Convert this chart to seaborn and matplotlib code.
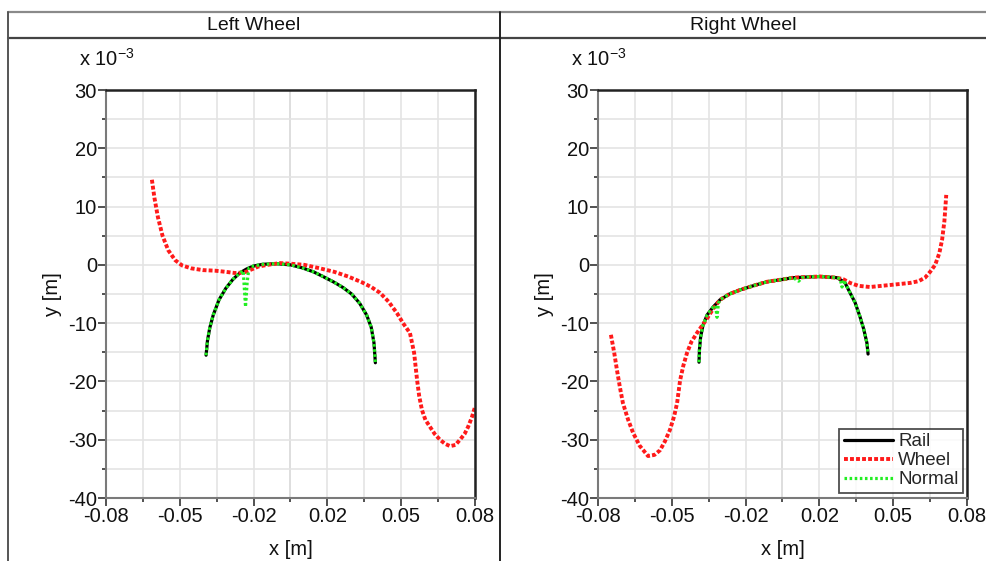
import numpy as np
import pandas as pd
import matplotlib
matplotlib.use("Agg")
import matplotlib.pyplot as plt
from matplotlib.lines import Line2D
from matplotlib.ticker import FixedLocator, FuncFormatter
import seaborn as sns

# ---- profile data (x in m, y in units of 1e-3 m) ----
left_wheel_x = [-0.0601, -0.0590, -0.0575, -0.0555, -0.0530, -0.0500, -0.0470, -0.0430, -0.0380,
                -0.0327, -0.0280, -0.0241, -0.0200, -0.0170, -0.0140, -0.0100, -0.0045, 0.0000,
                0.0060, 0.0128, 0.0190, 0.0250, 0.0310, 0.0350, 0.0388, 0.0425, 0.0462, 0.0488,
                0.0518, 0.0536, 0.0549, 0.0558, 0.0570, 0.0585, 0.0605, 0.0625, 0.0648, 0.0670,
                0.0692, 0.0715, 0.0735, 0.0755, 0.0770, 0.0786, 0.0800]
left_wheel_y = [14.6, 11.5, 8.2, 5.0, 2.5, 0.8, -0.1, -0.6, -0.9,
                -1.0, -1.2, -1.4, -1.3, -0.8, -0.3, 0.0, 0.3, 0.2,
                0.0, -0.6, -1.2, -2.0, -3.0, -3.8, -4.8, -6.3, -8.3, -10.0,
                -11.7, -15.1, -19.8, -22.5, -24.9, -26.6, -27.8, -29.0, -30.0, -30.7,
                -31.1, -30.9, -30.0, -29.0, -27.8, -26.2, -24.4]

left_rail_x = [-0.0366, -0.0360, -0.0350, -0.0335, -0.0310, -0.0280, -0.0250, -0.0220, -0.0190,
               -0.0160, -0.0120, -0.0060, 0.0000, 0.0050, 0.0100, 0.0141, 0.0190, 0.0228,
               0.0265, 0.0300, 0.0330, 0.0350, 0.0362, 0.0368]
left_rail_y = [-15.5, -13.0, -10.8, -8.6, -6.0, -4.0, -2.5, -1.4, -0.7,
               -0.2, 0.1, 0.2, 0.0, -0.5, -1.2, -2.0, -3.0, -3.9,
               -5.0, -6.6, -8.6, -10.7, -13.4, -16.8]

left_normal_x = [-0.0366, -0.0360, -0.0350, -0.0335, -0.0310, -0.0280, -0.0250, -0.0220, -0.0205,
                 -0.0195, -0.0188, -0.0180, -0.0160, -0.0120, -0.0060, 0.0000, 0.0050, 0.0100,
                 0.0141, 0.0190, 0.0228, 0.0265, 0.0300, 0.0330, 0.0350, 0.0362, 0.0368]
left_normal_y = [-15.5, -13.0, -10.8, -8.6, -6.0, -4.0, -2.5, -1.4, -1.0,
                 -7.2, -3.0, -0.5, -0.2, 0.1, 0.2, 0.0, -0.5, -1.2,
                 -2.0, -3.0, -3.9, -5.0, -6.6, -8.6, -10.7, -13.4, -16.8]

right_wheel_x = [-0.0744, -0.0730, -0.0718, -0.0705, -0.0692, -0.0670, -0.0648, -0.0620, -0.0583,
                 -0.0555, -0.0531, -0.0510, -0.0488, -0.0470, -0.0457, -0.0444, -0.0430, -0.0414,
                 -0.0395, -0.0371, -0.0350, -0.0327, -0.0300, -0.0271, -0.0230, -0.0184, -0.0120,
                 -0.0067, 0.0000, 0.0046, 0.0100, 0.0163, 0.0236, 0.0265, 0.0293, 0.0330,
                 0.0379, 0.0430, 0.0480, 0.0553, 0.0590, 0.0618, 0.0640, 0.0662, 0.0680,
                 0.0692, 0.0702, 0.0710]
right_wheel_y = [-12.0, -15.0, -18.0, -21.0, -23.7, -26.5, -28.8, -31.0, -32.8,
                 -32.6, -31.8, -30.3, -28.3, -26.0, -23.7, -19.8, -17.3, -15.1,
                 -13.2, -11.7, -10.5, -9.2, -7.5, -6.0, -5.0, -4.3, -3.5,
                 -2.9, -2.5, -2.2, -2.1, -2.0, -2.2, -2.5, -3.1, -3.6,
                 -3.8, -3.6, -3.4, -3.1, -2.8, -2.2, -1.2, 0.0, 2.0,
                 4.3, 7.5, 12.0]

right_rail_x = [-0.0362, -0.0360, -0.0355, -0.0345, -0.0327, -0.0300, -0.0271, -0.0230, -0.0184,
                -0.0120, -0.0067, 0.0000, 0.0046, 0.0100, 0.0163, 0.0236, 0.0270, 0.0293,
                0.0315, 0.0336, 0.0352, 0.0366, 0.0371]
right_rail_y = [-16.7, -14.5, -12.4, -10.4, -8.6, -7.2, -6.0, -5.0, -4.3,
                -3.5, -2.9, -2.5, -2.2, -2.1, -2.0, -2.2, -3.0, -4.8,
                -6.5, -8.9, -11.0, -13.4, -15.3]

right_normal_x = [-0.0362, -0.0360, -0.0355, -0.0345, -0.0327, -0.0300, -0.0290, -0.0284, -0.0278,
                  -0.0271, -0.0230, -0.0184, -0.0120, -0.0067, 0.0000, 0.0046, 0.0070, 0.0085,
                  0.0100, 0.0163, 0.0236, 0.0250, 0.0258, 0.0266, 0.0270, 0.0293, 0.0315,
                  0.0336, 0.0352, 0.0366, 0.0371]
right_normal_y = [-16.7, -14.5, -12.4, -10.4, -8.6, -7.2, -7.0, -9.0, -6.6,
                  -6.0, -5.0, -4.3, -3.5, -2.9, -2.5, -2.2, -2.8, -2.2,
                  -2.1, -2.0, -2.2, -2.4, -3.8, -2.6, -3.0, -4.8, -6.5,
                  -8.9, -11.0, -13.4, -15.3]

panel_titles = ["Left Wheel", "Right Wheel"]
series_names = ["Rail", "Wheel", "Normal"]
x_tick_positions = [-0.08, -0.048, -0.016, 0.016, 0.048, 0.08]
x_tick_labels = ["-0.08", "-0.05", "-0.02", "0.02", "0.05", "0.08"]
x_minor_positions = [-0.064, -0.032, 0.0, 0.032, 0.064]
y_tick_values = [30, 20, 10, 0, -10, -20, -30, -40]   # in 1e-3 m


def frame(xs, ys, name):
    return pd.DataFrame({"x": xs, "y": np.asarray(ys) * 1e-3, "series": name})


panels = [
    {"Rail": frame(left_rail_x, left_rail_y, "Rail"),
     "Wheel": frame(left_wheel_x, left_wheel_y, "Wheel"),
     "Normal": frame(left_normal_x, left_normal_y, "Normal")},
    {"Rail": frame(right_rail_x, right_rail_y, "Rail"),
     "Wheel": frame(right_wheel_x, right_wheel_y, "Wheel"),
     "Normal": frame(right_normal_x, right_normal_y, "Normal")},
]

styles = {
    "Rail": dict(color="black", linewidth=2.3, linestyle="-"),
    "Wheel": dict(color="#ff1a1a", linewidth=2.8, linestyle=(0, (1.0, 0.55))),
    "Normal": dict(color="#22ee22", linewidth=2.3, linestyle=(0, (0.8, 0.8))),
}

sns.set_theme(style="white")
plt.rcParams["font.family"] = ["Liberation Sans", "DejaVu Sans"]
plt.rcParams["mathtext.fontset"] = "custom"
plt.rcParams["mathtext.rm"] = "Liberation Sans"

W, H = 987, 561
FS = 14.5
fig = plt.figure(figsize=(W / 100, H / 100), dpi=100)

ax_left_px = [106, 598]
ax_w_px = 369
ax_top_px, ax_bot_px = 90, 498

# panel frame lines and title strips
edge_l, divider, top_y, strip_y = 8 / W, 500 / W, 1 - 12 / H, 1 - 38 / H
fig.add_artist(Line2D([edge_l, 1.0], [top_y, top_y], color="#8a8a8a", lw=1.6, transform=fig.transFigure))
fig.add_artist(Line2D([edge_l, 1.0], [strip_y, strip_y], color="#444444", lw=1.6, transform=fig.transFigure))
fig.add_artist(Line2D([edge_l, edge_l], [0, top_y], color="#555555", lw=1.4, transform=fig.transFigure))
fig.add_artist(Line2D([divider, divider], [0, top_y], color="#222222", lw=1.4, transform=fig.transFigure))

title_centers = [(8 + 500) / 2 / W, (500 + 987) / 2 / W]

for i, (lp, data) in enumerate(zip(ax_left_px, panels)):
    ax = fig.add_axes([lp / W, 1 - ax_bot_px / H, ax_w_px / W, (ax_bot_px - ax_top_px) / H])

    for name in series_names:
        sns.lineplot(data=data[name], x="x", y="y", sort=False, estimator=None,
                     ax=ax, label=name, **styles[name])

    ax.set_xlim(-0.08, 0.08)
    ax.set_ylim(-0.040, 0.030)

    ax.xaxis.set_major_locator(FixedLocator(x_tick_positions))
    ax.xaxis.set_minor_locator(FixedLocator(x_minor_positions))
    ax.set_xticklabels(x_tick_labels)
    ax.yaxis.set_major_locator(FixedLocator([v * 1e-3 for v in y_tick_values]))
    ax.yaxis.set_minor_locator(FixedLocator([(v + 5) * 1e-3 for v in y_tick_values[1:]]))
    ax.yaxis.set_major_formatter(FuncFormatter(lambda v, p: f"{v * 1e3:.0f}"))

    ax.grid(True, which="both", color="#e4e4e4", linewidth=1.2)
    ax.axvline(0.0, color="#c4c4c4", linewidth=1.4, zorder=0.5)
    ax.set_axisbelow(True)

    ax.tick_params(axis="both", which="major", direction="out", length=6, width=1.2,
                   color="#333333", labelsize=FS, pad=0.5, labelcolor="#111111")
    ax.tick_params(axis="both", which="minor", direction="out", length=3, width=1.2,
                   color="#333333")
    ax.tick_params(bottom=True, left=True, which="both")

    for side in ("left", "bottom"):
        ax.spines[side].set_color("#7a7a7a")
        ax.spines[side].set_linewidth(1.5)
    for side in ("top", "right"):
        ax.spines[side].set_color("#222222")
        ax.spines[side].set_linewidth(1.8)

    ax.set_xlabel("x [m]", fontsize=FS, color="#111111", labelpad=10)
    ax.set_ylabel("y [m]", fontsize=FS, color="#111111", labelpad=4.5)

    ax.text(-0.072, 1.05, r"x 10$^{\mathregular{-3}}$", transform=ax.transAxes, fontsize=FS,
            color="#111111", ha="left", va="bottom")

    fig.text(title_centers[i], (top_y + strip_y) / 2, panel_titles[i], ha="center",
             va="center", fontsize=FS - 0.5, color="#111111")

    leg = ax.get_legend()
    if i == 1:
        leg = ax.legend(loc="lower right", bbox_to_anchor=(0.99, 0.012), fontsize=FS - 1,
                        frameon=True, fancybox=False, borderpad=0.25, labelspacing=0.1,
                        handlelength=2.6, handletextpad=0.3, borderaxespad=0.0)
        leg.get_frame().set_edgecolor("#222222")
        leg.get_frame().set_linewidth(1.3)
    elif leg is not None:
        leg.remove()

fig.savefig("out.png", dpi=100)
